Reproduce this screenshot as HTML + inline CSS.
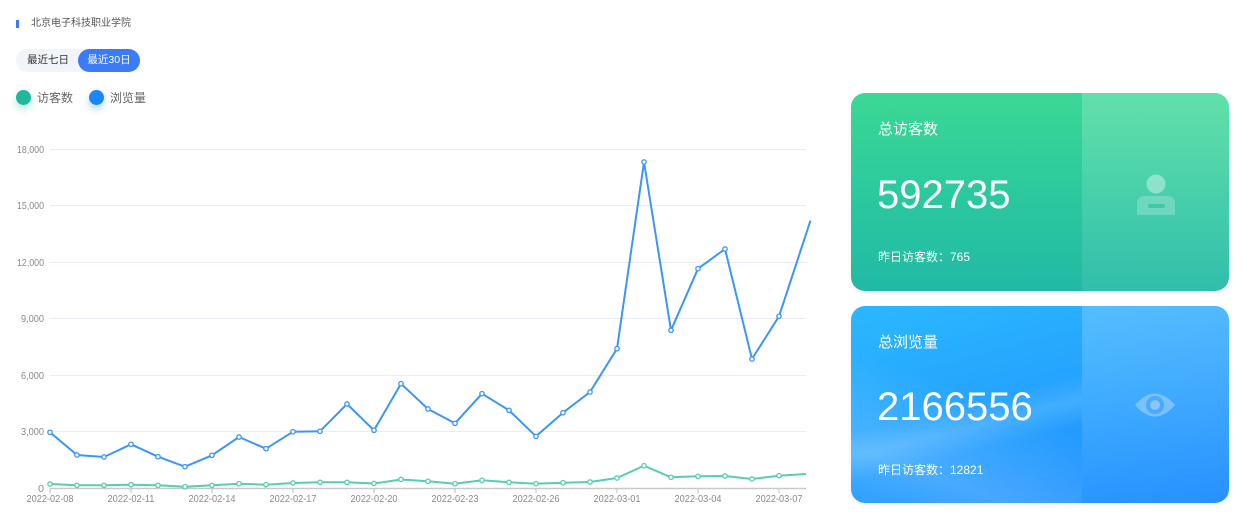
<!DOCTYPE html>
<html><head><meta charset="utf-8">
<style>
*{margin:0;padding:0;box-sizing:border-box}
body{width:1256px;height:529px;background:#fff;font-family:"Liberation Sans","Noto Sans CJK SC",sans-serif;position:relative;overflow:hidden}
.bar{position:absolute;left:16px;top:20px;width:3px;height:8px;background:#3a7af5}
.school{position:absolute;left:31px;top:16px;font-size:10px;color:#555;line-height:16px}
.tog{position:absolute;left:16px;top:49px;width:124px;height:23px;border-radius:12px;background:#f1f4f9}
.tog .a{position:absolute;left:11px;top:0;line-height:23px;font-size:10.5px;color:#333}
.tog .b{position:absolute;left:62px;top:0;width:62px;height:23px;border-radius:12px;background:#3b7cf6;color:#fff;font-size:10.5px;line-height:23px;text-align:center}
.lg{position:absolute;top:89px;height:16px;display:flex;align-items:center;font-size:12px;color:#666}
.dot{width:15px;height:15px;border-radius:50%;margin-right:6px}
.card{position:absolute;left:851px;width:378px;border-radius:14px;overflow:hidden;box-shadow:0 2px 6px rgba(0,0,0,0.06)}
.c1{top:93px;height:198px;background:linear-gradient(180deg,#3bd895 0%,#2cc99e 50%,#21b9a5 100%)}
.c2{top:306px;height:197px;background:linear-gradient(165deg,#2bb8fd 0%,#25a3ff 45%,#1b8aff 100%)}
.rp{position:absolute;left:231px;top:0;width:147px;height:100%;background:rgba(255,255,255,0.16)}
.t{position:absolute;left:27px;color:#fff;font-size:15px;line-height:18px}
.n{position:absolute;left:26px;color:#fff;font-size:40px;line-height:44px}
.s{position:absolute;left:27px;color:#fff;font-size:12px;line-height:14px}
</style></head><body>
<div class="bar"></div>
<div class="school">北京电子科技职业学院</div>
<div class="tog"><span class="a">最近七日</span><span class="b">最近30日</span></div>
<div class="lg" style="left:16px"><div class="dot" style="background:#1fb89a;box-shadow:0 4px 8px rgba(31,184,154,0.35)"></div>访客数</div>
<div class="lg" style="left:89px"><div class="dot" style="background:#1a86fb;box-shadow:0 4px 8px rgba(26,134,251,0.35)"></div>浏览量</div>

<svg width="830" height="529" style="position:absolute;left:0;top:0" xmlns="http://www.w3.org/2000/svg">
<g stroke="#e8ecf6" stroke-width="1">
<line x1="50" y1="149.5" x2="806" y2="149.5"/>
<line x1="50" y1="205.5" x2="806" y2="205.5"/>
<line x1="50" y1="262.5" x2="806" y2="262.5"/>
<line x1="50" y1="318.5" x2="806" y2="318.5"/>
<line x1="50" y1="375.5" x2="806" y2="375.5"/>
<line x1="50" y1="431.5" x2="806" y2="431.5"/>
</g>
<line x1="50" y1="488.5" x2="806" y2="488.5" stroke="#c9c9c9" stroke-width="1.5"/>
<g stroke="#c9c9c9" stroke-width="1.2">
<line x1="50" y1="488" x2="50" y2="493"/><line x1="131" y1="488" x2="131" y2="493"/><line x1="212" y1="488" x2="212" y2="493"/><line x1="293" y1="488" x2="293" y2="493"/><line x1="374" y1="488" x2="374" y2="493"/><line x1="455" y1="488" x2="455" y2="493"/><line x1="536" y1="488" x2="536" y2="493"/><line x1="617" y1="488" x2="617" y2="493"/><line x1="698" y1="488" x2="698" y2="493"/><line x1="779" y1="488" x2="779" y2="493"/>
</g>
<g font-family="Liberation Sans, sans-serif" font-size="10.5" fill="#8a8a8a" text-anchor="end">
<text x="44" y="153" textLength="27" lengthAdjust="spacingAndGlyphs">18,000</text>
<text x="44" y="209" textLength="27" lengthAdjust="spacingAndGlyphs">15,000</text>
<text x="44" y="266" textLength="27" lengthAdjust="spacingAndGlyphs">12,000</text>
<text x="44" y="322" textLength="23" lengthAdjust="spacingAndGlyphs">9,000</text>
<text x="44" y="379" textLength="23" lengthAdjust="spacingAndGlyphs">6,000</text>
<text x="44" y="435" textLength="23" lengthAdjust="spacingAndGlyphs">3,000</text>
<text x="44" y="492">0</text>
</g>
<g font-family="Liberation Sans, sans-serif" font-size="10.5" fill="#8a8a8a" text-anchor="middle">
<text x="50" y="502" textLength="47" lengthAdjust="spacingAndGlyphs">2022-02-08</text>
<text x="131" y="502" textLength="47" lengthAdjust="spacingAndGlyphs">2022-02-11</text>
<text x="212" y="502" textLength="47" lengthAdjust="spacingAndGlyphs">2022-02-14</text>
<text x="293" y="502" textLength="47" lengthAdjust="spacingAndGlyphs">2022-02-17</text>
<text x="374" y="502" textLength="47" lengthAdjust="spacingAndGlyphs">2022-02-20</text>
<text x="455" y="502" textLength="47" lengthAdjust="spacingAndGlyphs">2022-02-23</text>
<text x="536" y="502" textLength="47" lengthAdjust="spacingAndGlyphs">2022-02-26</text>
<text x="617" y="502" textLength="47" lengthAdjust="spacingAndGlyphs">2022-03-01</text>
<text x="698" y="502" textLength="47" lengthAdjust="spacingAndGlyphs">2022-03-04</text>
<text x="779" y="502" textLength="47" lengthAdjust="spacingAndGlyphs">2022-03-07</text>
</g>
<polyline fill="none" stroke="#56cfae" stroke-width="2" stroke-linejoin="round" points="50,484 77,485.3 104,485.3 131,484.7 158,485.3 185,486.7 212,485.3 239,483.7 266,484.7 293,483 320,482.3 347,482.3 374,483.5 401,479.5 428,481.3 455,483.7 482,480.3 509,482.3 536,483.7 563,482.7 590,482 617,478 644,465.7 671,477.3 698,476.3 725,476 752,479 779,475.7 806,474"/>
<g fill="#fff" stroke="#56cfae" stroke-width="1.3">
<circle cx="50" cy="484" r="2.2"/><circle cx="77" cy="485.3" r="2.2"/><circle cx="104" cy="485.3" r="2.2"/><circle cx="131" cy="484.7" r="2.2"/><circle cx="158" cy="485.3" r="2.2"/><circle cx="185" cy="486.7" r="2.2"/><circle cx="212" cy="485.3" r="2.2"/><circle cx="239" cy="483.7" r="2.2"/><circle cx="266" cy="484.7" r="2.2"/><circle cx="293" cy="483" r="2.2"/><circle cx="320" cy="482.3" r="2.2"/><circle cx="347" cy="482.3" r="2.2"/><circle cx="374" cy="483.5" r="2.2"/><circle cx="401" cy="479.5" r="2.2"/><circle cx="428" cy="481.3" r="2.2"/><circle cx="455" cy="483.7" r="2.2"/><circle cx="482" cy="480.3" r="2.2"/><circle cx="509" cy="482.3" r="2.2"/><circle cx="536" cy="483.7" r="2.2"/><circle cx="563" cy="482.7" r="2.2"/><circle cx="590" cy="482" r="2.2"/><circle cx="617" cy="478" r="2.2"/><circle cx="644" cy="465.7" r="2.2"/><circle cx="671" cy="477.3" r="2.2"/><circle cx="698" cy="476.3" r="2.2"/><circle cx="725" cy="476" r="2.2"/><circle cx="752" cy="479" r="2.2"/><circle cx="779" cy="475.7" r="2.2"/>
</g>
<polyline fill="none" stroke="#3d95f7" stroke-width="2" stroke-linejoin="round" points="50,432.3 77,455 104,457 131,444.3 158,456.7 185,466.7 212,455.3 239,437 266,448.7 293,431.7 320,431.3 347,404 374,430.3 401,383.7 428,409 455,423.3 482,393.7 509,410.3 536,436.3 563,412.7 590,392 617,348.7 644,162 671,330.3 698,268.7 725,249 752,359 779,316.3 810.5,220.5"/>
<g fill="#fff" stroke="#3d95f7" stroke-width="1.3">
<circle cx="50" cy="432.3" r="2.2"/><circle cx="77" cy="455" r="2.2"/><circle cx="104" cy="457" r="2.2"/><circle cx="131" cy="444.3" r="2.2"/><circle cx="158" cy="456.7" r="2.2"/><circle cx="185" cy="466.7" r="2.2"/><circle cx="212" cy="455.3" r="2.2"/><circle cx="239" cy="437" r="2.2"/><circle cx="266" cy="448.7" r="2.2"/><circle cx="293" cy="431.7" r="2.2"/><circle cx="320" cy="431.3" r="2.2"/><circle cx="347" cy="404" r="2.2"/><circle cx="374" cy="430.3" r="2.2"/><circle cx="401" cy="383.7" r="2.2"/><circle cx="428" cy="409" r="2.2"/><circle cx="455" cy="423.3" r="2.2"/><circle cx="482" cy="393.7" r="2.2"/><circle cx="509" cy="410.3" r="2.2"/><circle cx="536" cy="436.3" r="2.2"/><circle cx="563" cy="412.7" r="2.2"/><circle cx="590" cy="392" r="2.2"/><circle cx="617" cy="348.7" r="2.2"/><circle cx="644" cy="162" r="2.2"/><circle cx="671" cy="330.3" r="2.2"/><circle cx="698" cy="268.7" r="2.2"/><circle cx="725" cy="249" r="2.2"/><circle cx="752" cy="359" r="2.2"/><circle cx="779" cy="316.3" r="2.2"/>
</g>
</svg>

<div class="card c1">
  <div class="rp" style="background:linear-gradient(180deg,rgba(255,255,255,0.2),rgba(255,255,255,0.07))"></div>
  <div class="t" style="top:28px">总访客数</div>
  <div class="n" style="top:80px">592735</div>
  <div class="s" style="top:157px">昨日访客数：765</div>
  <svg style="position:absolute;left:280px;top:78px" width="50" height="50" xmlns="http://www.w3.org/2000/svg">
    <circle cx="25" cy="13" r="9.5" fill="rgba(255,255,255,0.38)"/>
    <path d="M6,33 Q6,25 14,25 L36,25 Q44,25 44,33 L44,44 L6,44 Z" fill="rgba(255,255,255,0.22)"/>
    <rect x="17" y="33" width="17" height="4" rx="2" fill="rgba(40,190,150,0.6)"/>
  </svg>
</div>

<div class="card c2">
  <div style="position:absolute;left:0;top:0;width:231px;height:197px;overflow:hidden">
    <div style="position:absolute;left:0;top:0;width:231px;height:197px;background:linear-gradient(200deg,rgba(255,255,255,0) 45%,rgba(255,255,255,0.18) 80%,rgba(255,255,255,0.05) 100%)"></div>
    <div style="position:absolute;left:-40px;top:95px;width:330px;height:50px;transform:rotate(-14deg);background:linear-gradient(180deg,rgba(255,255,255,0),rgba(255,255,255,0.14),rgba(255,255,255,0));"></div>
  </div>
  <div class="rp" style="background:linear-gradient(180deg,rgba(255,255,255,0.2),rgba(255,255,255,0.05))"></div>
  <div class="t" style="top:28px">总浏览量</div>
  <div class="n" style="top:79px">2166556</div>
  <div class="s" style="top:157px">昨日访客数：12821</div>
  <svg style="position:absolute;left:282px;top:82px" width="44" height="34" xmlns="http://www.w3.org/2000/svg">
    <path d="M2,17 Q22,-6 42,17 Q22,40 2,17 Z" fill="rgba(255,255,255,0.3)"/>
    <circle cx="22" cy="17" r="9" fill="rgba(40,150,255,0.55)"/>
    <circle cx="22" cy="17" r="5" fill="rgba(255,255,255,0.35)"/>
  </svg>
</div>
</body></html>
